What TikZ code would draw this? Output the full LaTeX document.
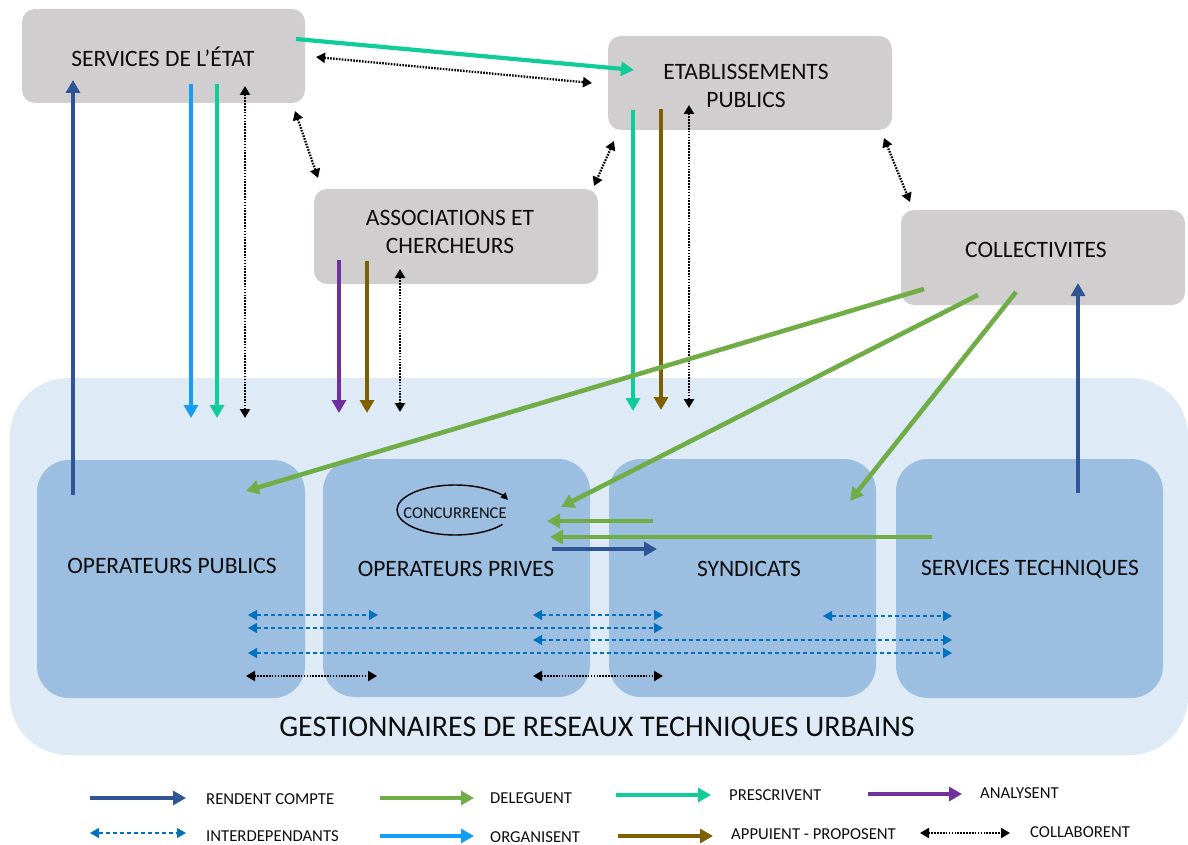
\documentclass[tikz,border=0pt]{standalone}
\usepackage{fontspec}
\setmainfont{Carlito}
\usetikzlibrary{arrows.meta}
\definecolor{boxgray}{HTML}{D0CECE}
\definecolor{contblue}{HTML}{DEEAF6}
\definecolor{innerblue}{HTML}{9CBEE0}
\definecolor{txt}{HTML}{0D0D0D}
\definecolor{crendent}{HTML}{2F5597}
\definecolor{cdeleg}{HTML}{70AD47}
\definecolor{cpresc}{HTML}{10CC99}
\definecolor{canaly}{HTML}{7030A0}
\definecolor{corgan}{HTML}{139EF5}
\definecolor{cappui}{HTML}{7F6000}
\definecolor{cinter}{HTML}{0070C0}
\tikzset{
  graybox/.style={fill=boxgray, draw=none, rounded corners=13pt, inner sep=0pt},
  innerbox/.style={fill=innerblue, draw=none, rounded corners=32pt, inner sep=0pt},
  contbox/.style={fill=contblue, draw=none, rounded corners=58pt, inner sep=0pt},
  lbl/.style={text=txt, align=center, font=\fontsize{23.5}{28}\selectfont, inner sep=0pt},
  leg/.style={text=txt, anchor=west, font=\fontsize{16.7}{19}\selectfont, inner sep=0pt},
  bighead/.style={-{Triangle[length=13pt,width=14pt]}},
  rendarr/.style={draw=crendent, line width=4.6pt, bighead},
  delarr/.style={draw=cdeleg, line width=4.6pt, bighead},
  presarr/.style={draw=cpresc, line width=4.2pt, bighead},
  anaarr/.style={draw=canaly, line width=4.6pt, bighead},
  orgarr/.style={draw=corgan, line width=4.2pt, bighead},
  apparr/.style={draw=cappui, line width=4.6pt, bighead},
  collarr/.style={draw=black, line width=2.3pt, dash pattern=on 1.6pt off 1.3pt,
     {Triangle[length=9pt,width=10pt]}-{Triangle[length=9pt,width=10pt]}},
  interarr/.style={draw=cinter, line width=1.4pt, dash pattern=on 4pt off 3pt,
     {Triangle[length=9pt,width=10pt]}-{Triangle[length=9pt,width=10pt]}},
}
\begin{document}
\begin{tikzpicture}[x=1pt,y=-1pt]
\useasboundingbox (0,0) rectangle (1188,845);
% container and inner boxes
\node[contbox, minimum width=1178pt, minimum height=377pt] (cont) at (599,566.5) {};
\node[innerbox, minimum width=268pt, minimum height=238pt] (oppub) at (171,579) {};
\node[innerbox, minimum width=267pt, minimum height=238pt] (oppriv) at (456.5,578) {};
\node[innerbox, minimum width=267pt, minimum height=238pt] (synd) at (742.5,578) {};
\node[innerbox, minimum width=267pt, minimum height=239pt] (servt) at (1029.5,578.5) {};
% gray boxes
\node[graybox, minimum width=283pt, minimum height=94pt] (etat) at (163.5,56) {};
\node[graybox, minimum width=284pt, minimum height=94pt] (etab) at (750,83) {};
\node[graybox, minimum width=284pt, minimum height=95pt] (assoc) at (456,236.5) {};
\node[graybox, minimum width=284pt, minimum height=95pt] (coll) at (1043,257.5) {};
% end points
\coordinate (rc1s) at (73,495);   \coordinate (rc1e) at (73,80);
\coordinate (rc2s) at (1078,493); \coordinate (rc2e) at (1078,283);
\coordinate (rc3s) at (552,549);  \coordinate (rc3e) at (657,549);
% vertical arrows from etat
\draw[orgarr]  (191,84) -- (191,418);
\draw[presarr] (217,84) -- (217,418);
\draw[collarr] (245,86) -- (245,418);
% from assoc
\draw[anaarr]  (339,260) -- (339,413);
\draw[apparr]  (367,261) -- (367,413);
\draw[collarr] (400,269) -- (400,412);
% from etab
\draw[presarr] (633,110) -- (633,411);
\draw[apparr]  (661,109) -- (661,410);
\draw[collarr] (689,105) -- (689,408);
% rendent compte
\draw[rendarr] (rc1s) -- (rc1e);
\draw[rendarr] (rc2s) -- (rc2e);
\draw[rendarr] (rc3s) -- (rc3e);
% etat -> etab
\draw[presarr] (296,39) -- (634,70);
% collaborent between boxes
\draw[collarr] (316,57) -- (592,83);
\draw[collarr] (295,111) -- (318,178);
\draw[collarr] (614,141) -- (594,186);
\draw[collarr] (884,138) -- (910,202);
% deleguent
\draw[delarr] (924,289) -- (246,491);
\draw[delarr] (978,295) -- (561,507);
\draw[delarr] (1016,292) -- (850,501);
\draw[delarr] (653,521) -- (547,521);
\draw[delarr] (932,537) -- (550,537);
% interdependants
\draw[interarr] (248,615) -- (378,615);
\draw[interarr] (533,615) -- (663,615);
\draw[interarr] (823,616) -- (952,616);
\draw[interarr] (248,628) -- (663,628);
\draw[interarr] (533,640) -- (952,640);
\draw[interarr] (248,653) -- (952,653);
\draw[collarr] (246,676) -- (377,676);
\draw[collarr] (533,676) -- (663,676);
% concurrence
\node[text=txt, font=\fontsize{16.5}{19}\selectfont, inner sep=0pt] (conc) at (455,513) {CONCURRENCE};
\draw[black, line width=1.4pt, -{Triangle[length=7pt,width=7pt]}]
  ([shift={(-35:58pt and 25pt)}]455,510) arc[start angle=-35, end angle=-336, x radius=58pt, y radius=25pt];
% labels
\node[lbl] (tetat) at (163,57) {SERVICES DE L’ÉTAT};
\node[lbl] (tetab) at (746,86) {ETABLISSEMENTS\\PUBLICS};
\node[lbl] (tassoc) at (450,232) {ASSOCIATIONS ET\\CHERCHEURS};
\node[lbl] (tcoll) at (1036,250) {COLLECTIVITES};
\node[lbl] (toppub) at (172,566) {OPERATEURS PUBLICS};
\node[lbl] (topprv) at (456,569) {OPERATEURS PRIVES};
\node[lbl] (tsynd) at (749,569) {SYNDICATS};
\node[lbl] (tservt) at (1030,569) {SERVICES TECHNIQUES};
\node[text=txt, font=\fontsize{30}{34}\selectfont, inner sep=0pt] (title) at (597,729) {GESTIONNAIRES DE RESEAUX TECHNIQUES URBAINS};
% legend
\coordinate (l1a) at (90,798);  \coordinate (l1b) at (186,798);
\coordinate (l2a) at (380,798); \coordinate (l2b) at (474,798);
\coordinate (l3a) at (616,795); \coordinate (l3b) at (711,795);
\coordinate (l4a) at (868,794); \coordinate (l4b) at (962,794);
\coordinate (l5a) at (90,833);  \coordinate (l5b) at (186,833);
\coordinate (l6a) at (380,836); \coordinate (l6b) at (474,836);
\coordinate (l7a) at (618,836); \coordinate (l7b) at (713,836);
\coordinate (l8a) at (920,833); \coordinate (l8b) at (1010,833);
\draw[rendarr] (l1a) -- (l1b);
\draw[delarr]  (l2a) -- (l2b);
\draw[presarr] (l3a) -- (l3b);
\draw[anaarr]  (l4a) -- (l4b);
\draw[interarr] (l5a) -- (l5b);
\draw[orgarr]  (l6a) -- (l6b);
\draw[apparr]  (l7a) -- (l7b);
\draw[collarr] (l8a) -- (l8b);
\node[leg] (g1) at (206,799) {RENDENT COMPTE};
\node[leg] (g2) at (490,798) {DELEGUENT};
\node[leg] (g3) at (729,795) {PRESCRIVENT};
\node[leg] (g4) at (980,793) {ANALYSENT};
\node[leg] (g5) at (206,836) {INTERDEPENDANTS};
\node[leg] (g6) at (490,837) {ORGANISENT};
\node[leg] (g7) at (731,834) {APPUIENT - PROPOSENT};
\node[leg] (g8) at (1030,832) {COLLABORENT};
\end{tikzpicture}
\end{document}
